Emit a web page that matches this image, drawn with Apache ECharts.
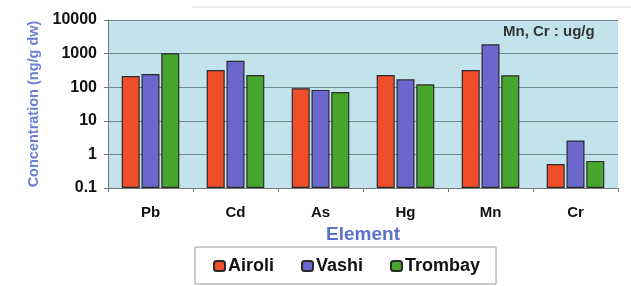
<!DOCTYPE html>
<html>
<head>
<meta charset="utf-8">
<script src="https://cdn.jsdelivr.net/npm/echarts@6/dist/echarts.min.js"></script>
<style>
  html, body { margin: 0; padding: 0; background: #fff; }
  #chart { width: 631px; height: 286px; }
</style>
</head>
<body>
<div id="chart"></div>
<script>
// element categories
var elements = ['Pb', 'Cd', 'As', 'Hg', 'Mn', 'Cr']
// concentrations (ng/g dw, Mn & Cr in ug/g)
var airoli = [215, 325, 93, 230, 325, 0.52]
var vashi = [245, 610, 83, 171, 1890, 2.6]
var trombay = [1020, 230, 72, 122, 225, 0.64]

var chart = echarts.init(document.getElementById('chart'))

function bar(name, data, color) {
    return {
        name: name,
        type: 'bar',
        data: data,
        barWidth: 18,
        barGap: '10%',
        itemStyle: {
            color: color,
            borderColor: '#2a2a2a',
            borderWidth: 1.2
        }
    }
}

var option = {
    animation: false,
    textStyle: { fontFamily: 'Liberation Sans, Arial, sans-serif' },
    grid: { left: 108, right: 13, top: 20, bottom: 98, show: true, backgroundColor: '#c2e3ec', borderWidth: 0 },
    graphic: [
        { type: 'line', shape: { x1: 192, y1: 7, x2: 631, y2: 7 }, style: { stroke: '#d8d8d8', lineWidth: 1 } },
        {
            type: 'text', left: 503, top: 24,
            style: { text: 'Mn, Cr : ug/g', fontSize: 15, fontWeight: 'bold', fill: '#333', fontFamily: 'Liberation Sans, Arial, sans-serif' }
        }
    ],
    legend: {
        left: 195, top: 247,
        padding: [10, 16, 9, 18],
        itemGap: 27,
        itemWidth: 11, itemHeight: 10,
        borderColor: '#999', borderWidth: 1,
        textStyle: { fontSize: 18, fontWeight: 'bold', color: '#111', padding: [0, 0, 0, -2] },
        data: ['Airoli', 'Vashi', 'Trombay']
    },
    xAxis: {
        type: 'category',
        data: elements,
        name: 'Element',
        nameLocation: 'middle',
        nameGap: 28,
        nameTextStyle: { fontSize: 19, fontWeight: 'bold', color: '#5a72cc' },
        axisLine: { lineStyle: { color: '#777' } },
        axisTick: { show: true, length: 4, lineStyle: { color: '#777' } },
        axisLabel: { margin: 17, fontSize: 15, fontWeight: 'bold', color: '#111' }
    },
    yAxis: {
        type: 'log',
        logBase: 10,
        min: 0.1,
        max: 10000,
        startValue: 0.1,
        name: 'Concentration (ng/g dw)',
        nameLocation: 'middle',
        nameGap: 66,
        nameTextStyle: { fontSize: 14.5, fontWeight: 'bold', color: '#6a80d2' },
        axisLine: { show: true, lineStyle: { color: '#777' } },
        axisTick: { show: true, length: 4, lineStyle: { color: '#777' } },
        axisLabel: {
            margin: 11, fontSize: 16, fontWeight: 'bold', color: '#111',
            formatter: function (v) { return String(+v.toPrecision(3)) }
        },
        splitLine: { lineStyle: { color: '#6f8a8c', width: 1 } }
    },
    series: [
        bar('Airoli', airoli, '#f04e2a'),
        bar('Vashi', vashi, '#6a68cc'),
        bar('Trombay', trombay, '#48a62e')
    ]
}

chart.setOption(option)
</script>
</body>
</html>
